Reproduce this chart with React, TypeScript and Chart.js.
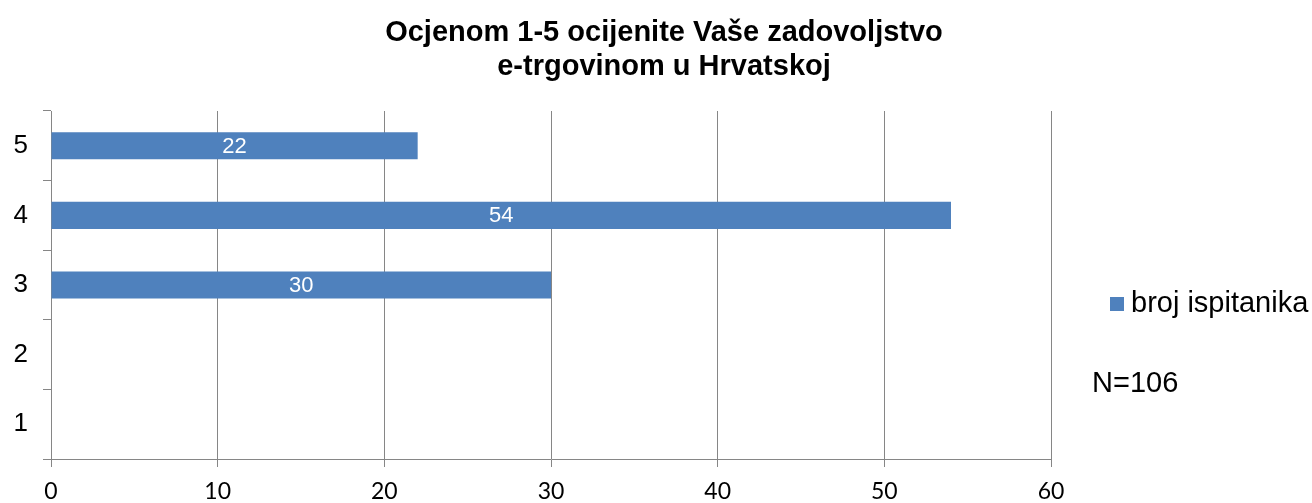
import React, { useEffect, useRef } from "react";
import { Chart, registerables } from "chart.js";

Chart.register(...registerables);

const categories = ["1", "2", "3", "4", "5"];
const values = [0, 0, 30, 54, 22];
const seriesName = "broj ispitanika";
const titleLines = ["Ocjenom 1-5 ocijenite Vaše zadovoljstvo", "e-trgovinom u Hrvatskoj"];
const noteText = "N=106";
const xMin = 0;
const xMax = 60;
const xStep = 10;

const BLUE = "#4F81BD";
const GRID = "#868686";
const ARIAL = "'Liberation Sans', Arial, sans-serif";

const overlayPlugin = {
  id: "overlay",
  afterDraw(chart: any) {
    const ctx = chart.ctx as CanvasRenderingContext2D;
    ctx.save();
    // title
    ctx.fillStyle = "#000";
    ctx.font = `bold 29px ${ARIAL}`;
    ctx.textAlign = "center";
    ctx.textBaseline = "middle";
    ctx.fillText(titleLines[0], 664, 33);
    ctx.fillText(titleLines[1], 664, 67);
    // data labels
    const meta = chart.getDatasetMeta(0);
    ctx.font = `22px ${ARIAL}`;
    ctx.fillStyle = "#fff";
    meta.data.forEach((bar: any, i: number) => {
      const v = values[i];
      if (!v) return;
      const cx = (bar.x + bar.base) / 2;
      ctx.fillText(String(v), cx, bar.y + 1);
    });
    // legend
    ctx.fillStyle = BLUE;
    ctx.fillRect(1110, 297, 14, 14);
    ctx.fillStyle = "#000";
    ctx.textAlign = "left";
    ctx.font = `29px ${ARIAL}`;
    ctx.fillText(seriesName, 1131, 304);
    ctx.fillText(noteText, 1092, 384);
    ctx.restore();
  },
};

export default function App() {
  const ref = useRef<HTMLCanvasElement | null>(null);
  useEffect(() => {
    if (!ref.current) return;
    const chart = new Chart(ref.current, {
      type: "bar",
      data: {
        labels: categories,
        datasets: [
          {
            label: seriesName,
            data: values,
            backgroundColor: BLUE,
            borderWidth: 0,
            categoryPercentage: 1,
            barPercentage: 0.39,
          },
        ],
      },
      options: {
        indexAxis: "y",
        animation: false,
        responsive: false,
        maintainAspectRatio: false,
        layout: { padding: { left: 0, right: 1312 - 1051, top: 111, bottom: 0 } },
        plugins: {
          legend: { display: false },
          title: { display: false },
          tooltip: { enabled: false },
        },
        scales: {
          x: {
            min: xMin,
            max: xMax,
            ticks: {
              stepSize: xStep,
              color: "#000",
              padding: 11,
              font: { family: "Lato, 'Open Sans', sans-serif", size: 23 },
            },
            grid: { color: GRID, lineWidth: 1, tickLength: 8, drawTicks: true },
            border: { color: GRID, width: 1 },
            afterFit(scale: any) {
              scale.height = 503 - 459;
            },
          },
          y: {
            reverse: true,
            ticks: {
              color: "#000",
              padding: 15,
              font: { family: ARIAL, size: 26 },
            },
            grid: {
              color: GRID,
              drawOnChartArea: false,
              drawTicks: true,
              tickLength: 8,
              offset: true,
            },
            border: { color: GRID, width: 1 },
            afterFit(scale: any) {
              scale.width = 51;
            },
          },
        },
      },
      plugins: [overlayPlugin],
    });
    return () => chart.destroy();
  }, []);
  return (
    <div style={{ position: "fixed", left: 0, top: 0, width: 1312, height: 503, background: "#fff" }}>
      <canvas ref={ref} width={1312} height={503} style={{ width: 1312, height: 503, display: "block" }} />
    </div>
  );
}
